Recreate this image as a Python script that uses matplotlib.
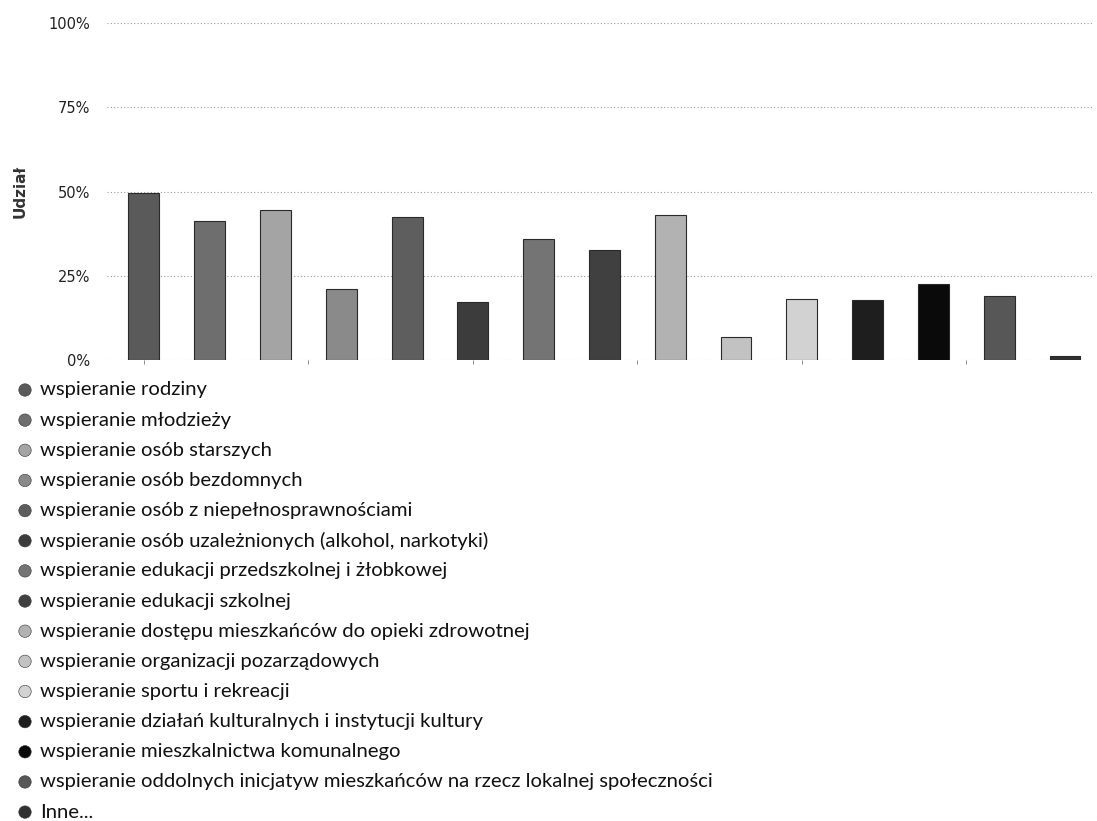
import matplotlib
matplotlib.use("Agg")
import matplotlib.pyplot as plt
import numpy as np

# dane: udział poszczególnych obszarów wsparcia (%)
categories = [
    "wspieranie rodziny",
    "wspieranie młodzieży",
    "wspieranie osób starszych",
    "wspieranie osób bezdomnych",
    "wspieranie osób z niepełnosprawnościami",
    "wspieranie osób uzależnionych (alkohol, narkotyki)",
    "wspieranie edukacji przedszkolnej i żłobkowej",
    "wspieranie edukacji szkolnej",
    "wspieranie dostępu mieszkańców do opieki zdrowotnej",
    "wspieranie organizacji pozarządowych",
    "wspieranie sportu i rekreacji",
    "wspieranie działań kulturalnych i instytucji kultury",
    "wspieranie mieszkalnictwa komunalnego",
    "wspieranie oddolnych inicjatyw mieszkańców na rzecz lokalnej społeczności",
    "Inne...",
]
values = [49.6, 41.3, 44.5, 21.2, 42.5, 17.2, 35.9, 32.6, 43.2, 6.8, 18.2, 17.7, 22.5, 19.0, 1.1]
colors = ["#5a5a5a", "#6e6e6e", "#a4a4a4", "#8a8a8a", "#5e5e5e", "#3c3c3c", "#747474",
          "#404040", "#b2b2b2", "#c2c2c2", "#d2d2d2", "#1e1e1e", "#0a0a0a", "#575757", "#303030"]
y_ticks = [0, 25, 50, 75, 100]
y_tick_labels = ["0%", "25%", "50%", "75%", "100%"]

W, H = 1097, 821
fig = plt.figure(figsize=(W / 100, H / 100), dpi=100)
fig.patch.set_facecolor("white")

# główny wykres słupkowy
ax = fig.add_axes([107 / W, 1 - 360 / H, (1092 - 107) / W, (360 - 23.3) / H])
x = np.arange(len(values))
ax.bar(x, values, width=0.47, color=colors, edgecolor="#2a2a2a", linewidth=0.8, zorder=3)
ax.set_xlim(-0.56, 14.41)
ax.set_ylim(0, 100)
ax.set_yticks(y_ticks)
ax.set_yticklabels(y_tick_labels, fontsize=10.5, color="#222222")
ax.set_xticks(np.arange(0, 15, 2.5))
ax.set_xticklabels([])
ax.tick_params(axis="x", length=3, color="#777777", width=0.6)
ax.tick_params(axis="y", length=0, pad=12)
ax.grid(axis="y", linestyle=(0, (1, 2)), color="#9a9a9a", linewidth=0.8, zorder=0)
for s in ax.spines.values():
    s.set_visible(False)
ax.set_ylabel("Udział", fontsize=11, fontweight="bold", color="#333333")
ax.yaxis.set_label_coords(-0.081, 0.5)

# legenda rysowana ręcznie pod wykresem
leg = fig.add_axes([0, 0, 1, 1], zorder=-1)
leg.set_xlim(0, W)
leg.set_ylim(H, 0)
leg.axis("off")
row_y = 390 + 30.15 * np.arange(len(categories))
leg.scatter(np.full(len(categories), 25), row_y, s=80, c=colors, edgecolors="#333333", linewidths=0.4)
for yy, name in zip(row_y, categories):
    leg.text(40, yy, name, fontsize=14.6, family=["Lato", "DejaVu Sans"], va="center", ha="left", color="#111111")

fig.savefig("out.png", dpi=100)
